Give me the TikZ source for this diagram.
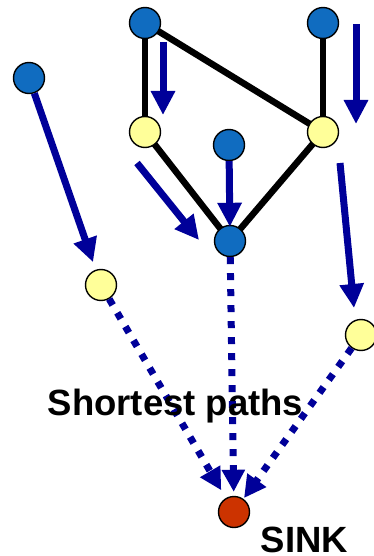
\documentclass[tikz,border=0pt]{standalone}
\usepackage{fontspec}
\setmainfont{Liberation Sans}
\usetikzlibrary{arrows.meta}
\definecolor{nodeblue}{RGB}{16,108,192}
\definecolor{nodeyellow}{RGB}{255,255,153}
\definecolor{sinkred}{RGB}{204,51,0}
\definecolor{navy}{RGB}{0,0,153}
\tikzset{
  vtx/.style={circle, draw=black, line width=1.4pt, minimum size=31pt, inner sep=0pt},
  bluevtx/.style={vtx, fill=nodeblue},
  yelvtx/.style={vtx, fill=nodeyellow},
  sinkvtx/.style={vtx, fill=sinkred},
  edge/.style={line width=6.5pt, black},
  flow/.style={line width=7pt, navy, -{Triangle[length=24pt,width=23pt]}},
  pathflow/.style={line width=7pt, navy, dash pattern=on 7pt off 9pt,
                   -{Triangle[length=22pt,width=22pt]}},
  lbl/.style={font=\bfseries\fontsize{36.5}{40}\selectfont, inner sep=0pt}
}
\begin{document}
\begin{tikzpicture}[x=1pt,y=-1pt]
  \useasboundingbox (0,0) rectangle (373,556);

  % vertices
  \coordinate (Ac) at (145,23);
  \coordinate (Bc) at (323,23);
  \coordinate (Dc) at (145,132);
  \coordinate (Ec) at (323,132);
  \coordinate (Gc) at (230,241);

  % graph edges, drawn beneath the vertices
  \draw[edge] (Ac) -- (Dc);
  \draw[edge] (Ac) -- (Ec);
  \draw[edge] (Bc) -- (Ec);
  \draw[edge] (Dc) -- (Gc);
  \draw[edge] (Ec) -- (Gc);

  \node[bluevtx] (A) at (Ac) {};
  \node[bluevtx] (B) at (Bc) {};
  \node[bluevtx] (C) at (29,78) {};
  \node[yelvtx]  (D) at (Dc) {};
  \node[yelvtx]  (E) at (Ec) {};
  \node[bluevtx] (F) at (229,145) {};
  \node[bluevtx] (G) at (Gc) {};
  \node[yelvtx]  (H) at (101,285) {};
  \node[yelvtx]  (I) at (361,335) {};
  \node[sinkvtx] (S) at (234,512) {};

  % direction indicators beside the edges
  \coordinate (a1) at (163,42);  \coordinate (a2) at (163,115);
  \coordinate (b1) at (356,24);  \coordinate (b2) at (356,124);
  \coordinate (d1) at (137,163); \coordinate (d2) at (199,240);
  \coordinate (e1) at (340,163); \coordinate (e2) at (354,308);

  \draw[flow] (a1) -- (a2);
  \draw[flow] (b1) -- (b2);
  \draw[flow] (d1) -- (d2);
  \draw[flow] (e1) -- (e2);
  \draw[flow, shorten >=8pt] (C) -- (H);
  \draw[flow, shorten >=-2pt] (F) -- (G);

  % shortest paths to the sink
  \draw[pathflow, shorten >=9pt] (H) -- (S);
  \draw[pathflow, shorten >=4pt] (G) -- (S);
  \draw[pathflow, shorten >=1pt] (I) -- (S);

  \node[lbl, anchor=base] (sp) at (175.5,415) {Shortest paths};
  \node[lbl, anchor=base] (sk) at (304.5,552) {SINK};
\end{tikzpicture}
\end{document}
